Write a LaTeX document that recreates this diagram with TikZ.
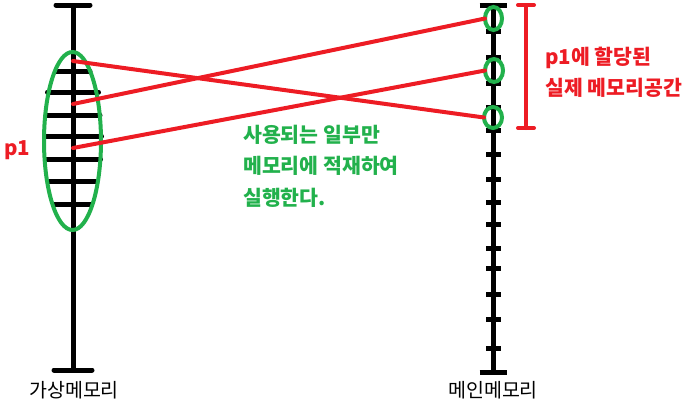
\documentclass[tikz,border=0pt]{standalone}
\usepackage{fontspec}
\setmainfont{Noto Sans CJK KR}
\usepackage{tikz}
\usetikzlibrary{calc, positioning, shapes.geometric}
\definecolor{pred}{RGB}{237,28,36}
\definecolor{pgreen}{RGB}{34,177,76}
\tikzstyle{axis}=[line width=5pt]
\tikzstyle{map}=[pred, line width=4pt, line cap=round]
\tikzstyle{frame}=[draw=pgreen, line width=4pt, ellipse, inner sep=0pt]
\tikzstyle{txt}=[inner sep=0pt, anchor=west, font=\fontsize{19.5}{19.5}\selectfont]
\tikzstyle{note}=[txt, font=\fontsize{20.5}{20.5}\selectfont\bfseries]

\begin{document}
\begin{tikzpicture}[x=1pt, y=-1pt]
		\useasboundingbox (0,0) rectangle (691,405);

		% virtual memory
		\coordinate (vtop) at (73,5);
		\coordinate (vbot) at (73,370);
		\draw[axis] (vtop) -- (vbot);
		\draw[axis, line cap=round] ($(vtop)+(-17,0)$) -- ($(vtop)+(17,0)$);
		\draw[axis, line cap=round] ($(vbot)+(-19,0)$) -- ($(vbot)+(19,0)$);
		\foreach \y / \w in {71/17, 92/25.5, 115/27, 136/28.5, 159/27.5, 181/24, 204/18}
		\draw[axis, line cap=round] (73-\w,\y) -- (73+\w,\y);
		\node[frame, minimum width=57, minimum height=178] (page) at (72.5,141) {};

		% main memory
		\coordinate (mtop) at (493,5);
		\coordinate (mbot) at (493,372);
		\draw[axis] (mtop) -- (mbot);
		\draw[axis] ($(mtop)+(-13.5,0)$) -- ($(mtop)+(13.5,0)$);
		\draw[axis] ($(mbot)+(-13.5,0)$) -- ($(mbot)+(13.5,0)$);
		\foreach \y in {31,57,83,107,130,154,179,202,224,248,268,294,319,348}
		\draw[axis] (486,\y) -- (501,\y);
		\node[frame, minimum width=17, minimum height=23] (m1) at (493.5,18.5) {};
		\node[frame, minimum width=18, minimum height=23] (m2) at (494,70.5) {};
		\node[frame, minimum width=18, minimum height=21] (m3) at (493,117.5) {};

		% mapping
		\coordinate (v1) at (73,61);
		\coordinate (v2) at (73,104);
		\coordinate (v3) at (73,148);
		\foreach \from / \to in {v1/m3, v2/m1, v3/m2}
		\draw[map] (\from) -- ($(\to.west)+(2,0)$);

		% allocated range
		\coordinate (rtop) at (526,5);
		\coordinate (rbot) at (526,128);
		\draw[map] (rtop) -- (rbot);
		\draw[map] ($(rtop)+(-8,0)$) -- ($(rtop)+(8,0)$);
		\draw[map] ($(rbot)+(-8,0)$) -- ($(rbot)+(8,0)$);

		% labels
		\node[note, text=pred] (p1) at (4,150) {p1};
		\node[note, text=pred] (r1) at (545,58) {p1에 할당된};
		\node[note, text=pred] (r2) at (545,88) {실제 메모리공간};
		\node[note, text=pgreen] (g1) at (243,135) {사용되는 일부만};
		\node[note, text=pgreen] (g2) at (243,166) {메모리에 적재하여};
		\node[note, text=pgreen] (g3) at (243,198) {실행한다.};
		\node[txt] (vlabel) at (29,390) {가상메모리};
		\node[txt] (mlabel) at (448,390) {메인메모리};

	\end{tikzpicture}
\end{document}
